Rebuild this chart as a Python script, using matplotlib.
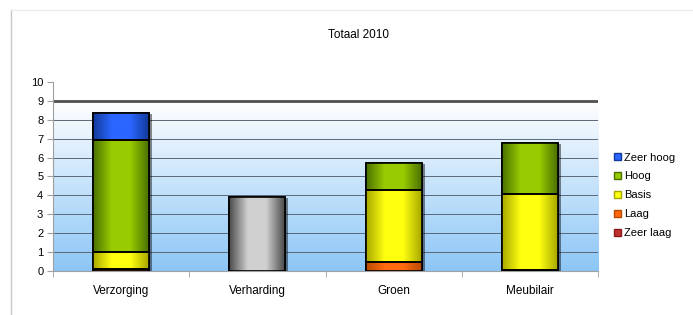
import numpy as np
import matplotlib
matplotlib.use('Agg')
import matplotlib.pyplot as plt
from matplotlib.colors import LinearSegmentedColormap
from matplotlib.patches import Patch, Rectangle
from matplotlib.lines import Line2D

plt.rcParams['font.family'] = ['Liberation Sans', 'DejaVu Sans']

# === Data ===
categories = ['Verzorging', 'Verharding', 'Groen', 'Meubilair']
zeer_laag = [0.0, 0.0, 0.0, 0.0]
laag = [0.1, 0.0, 0.5, 0.05]
basis = [0.92, 0.0, 3.78, 4.01]
hoog = [5.9, 0.0, 1.45, 2.73]
zeer_hoog = [1.45, 0.0, 0.0, 0.0]
overig = [0.0, 3.9, 0.0, 0.0]  # grey bar, not in legend

series = [
    ('Zeer laag', zeer_laag, '#8b1a1a', '#c03030'),
    ('Laag', laag, '#b84a00', '#ff6a10'),
    ('Basis', basis, '#a8a800', '#ffff10'),
    ('Hoog', hoog, '#4a7000', '#99cc00'),
    ('Zeer hoog', zeer_hoog, '#123a9a', '#2a66ff'),
]

fig = plt.figure(figsize=(6.93, 3.15), dpi=100)
fig.patch.set_facecolor('white')
# faint chart-area frame (only left and top edges visible in the reference)
fig.add_artist(Line2D([0.016, 0.016], [0.0, 0.968], transform=fig.transFigure,
                      color='#c8c8c8', linewidth=1.0))
fig.add_artist(Line2D([0.016, 1.0], [0.968, 0.968], transform=fig.transFigure,
                      color='#ececec', linewidth=1.0))

ax = fig.add_axes([0.0765, 0.1397, 0.7865, 0.600])
x = np.arange(len(categories))
width = 0.41
ax.set_xlim(-0.5, len(categories) - 0.5)
ax.set_ylim(0, 10)

# background gradient (blue at bottom, white at 9)
bg = LinearSegmentedColormap.from_list('bg', ['#8cc6f6', '#ffffff'])
ax.imshow(np.linspace(0, 1, 256).reshape(-1, 1), cmap=bg, origin='lower',
          extent=[-0.5, len(categories) - 0.5, 0, 9], aspect='auto', zorder=0)
for yv in range(1, 9):
    ax.axhline(yv, color='#5a6878', linewidth=0.7, zorder=1)
ax.axhline(9, color='#505050', linewidth=2.0, zorder=1)

def gradient_bar(xc, bottom, height, dark, light):
    if height <= 0:
        return
    # soft shadow on the right
    ax.add_patch(Rectangle((xc - width / 2 + 0.022, bottom - 0.05), width, height,
                           facecolor='black', alpha=0.45, edgecolor='none', zorder=2))
    rect = ax.bar(xc, height, width, bottom=bottom, color=light,
                  edgecolor='black', linewidth=1.2, zorder=3)[0]
    cmap = LinearSegmentedColormap.from_list('g', [dark, light, light, dark])
    im = ax.imshow(np.linspace(0, 1, 128).reshape(1, -1), cmap=cmap,
                   extent=[xc - width / 2, xc + width / 2, bottom, bottom + height],
                   aspect='auto', zorder=3.5)
    im.set_clip_path(rect)
    ax.add_patch(Rectangle((xc - width / 2, bottom), width, height, fill=False,
                           edgecolor='black', linewidth=1.2, zorder=4))

bottoms = np.zeros(len(categories))
for name, vals, dark, light in series:
    for i, v in enumerate(vals):
        gradient_bar(x[i], bottoms[i], v, dark, light)
    bottoms += np.array(vals)
for i, v in enumerate(overig):
    gradient_bar(x[i], bottoms[i], v, '#4a4a4a', '#d0d0d0')

ax.set_xticks(x)
ax.set_xticklabels(categories, fontsize=8.5)
ax.set_xticks(np.arange(-0.5, len(categories)), minor=True)
ax.tick_params(axis='x', which='major', length=0, pad=10)
ax.tick_params(axis='x', which='minor', length=4, color='#a0a0a0')
ax.set_yticks(range(0, 11))
ax.tick_params(axis='y', labelsize=8, length=4, color='#a0a0a0', pad=3)
for s in ['top', 'right']:
    ax.spines[s].set_visible(False)
ax.spines['left'].set_color('#a0a0a0')
ax.spines['left'].set_bounds(0, 10)
ax.spines['bottom'].set_color('#a0a0a0')

fig.text(0.518, 0.889, 'Totaal 2010', ha='center', va='center', fontsize=8.5)

handles = [Patch(facecolor=light, edgecolor=dark, label=name)
           for name, vals, dark, light in series[::-1]]
fig.legend(handles=handles, loc='center left', bbox_to_anchor=(0.88, 0.38),
           frameon=False, fontsize=8, handlelength=0.6, handleheight=0.6,
           handletextpad=0.3, labelspacing=0.8, borderaxespad=0)

fig.savefig('out.png', dpi=100)
